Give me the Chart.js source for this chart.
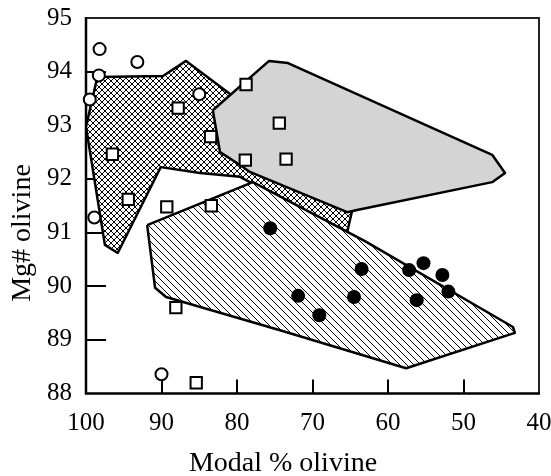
<!DOCTYPE html>
<html>
<head>
<meta charset="utf-8">
<script src="https://cdn.jsdelivr.net/npm/chart.js@4.4.1/dist/chart.umd.min.js"></script>
<style>
  html, body { margin: 0; padding: 0; background: #fff; }
  canvas { display: block; }
</style>
</head>
<body>
<canvas id="chart" width="551" height="476"></canvas>
<script>
// axis ranges and titles
const xTicks = [100, 90, 80, 70, 60, 50, 40];
const yTicks = [88, 89, 90, 91, 92, 93, 94, 95];
const xTitle = 'Modal % olivine';
const yTitle = 'Mg# olivine';

// open circles
const openCircleX = [98.2, 93.2, 98.3, 99.5, 85.0, 98.9, 90.0];
const openCircleY = [94.42, 94.18, 93.93, 93.48, 93.58, 91.28, 88.36];

// open squares
const squareX = [87.8, 96.5, 94.4, 89.3, 83.4, 83.5, 78.8, 74.4, 78.9, 73.5, 88.1, 85.4];
const squareY = [93.32, 92.46, 91.62, 91.48, 91.50, 92.79, 93.76, 93.04, 92.35, 92.37, 89.60, 88.20];

// filled circles
const filledX = [75.6, 63.5, 71.9, 69.1, 64.5, 57.2, 55.3, 52.8, 52.0, 56.2];
const filledY = [91.08, 90.32, 89.82, 89.46, 89.80, 90.30, 90.43, 90.21, 89.90, 89.74];

// field outlines
const crossX = [98.5, 89.8, 86.75, 80.7, 71.7, 64.8, 65.4, 78.3, 79.6, 84.9, 90.1, 95.8, 97.5, 100];
const crossY = [93.90, 93.92, 94.20, 93.56, 92.54, 91.38, 91.01, 91.94, 92.04, 92.11, 92.22, 90.62, 90.77, 92.97];

const grayX = [83.2, 82.25, 79.6, 78.3, 65.4, 64.1, 46.2, 44.5, 46.2, 73.25, 75.75];
const grayY = [93.28, 92.50, 92.26, 92.13, 91.38, 91.42, 91.94, 92.11, 92.45, 94.16, 94.20];

const hatchX = [91.9, 90.85, 89.4, 74.3, 57.6, 43.2, 43.45, 63.05, 77.9];
const hatchY = [91.14, 89.97, 89.80, 89.18, 88.47, 89.13, 89.24, 90.84, 91.94];

function points(xs, ys) {
    return xs.map((x, i) => ({ x: x, y: ys[i] }));
}

function closedShape(xs, ys) {
    const pts = points(xs, ys);
    pts.push(pts[0]);
    return pts;
}

const canvas = document.getElementById('chart');
const ctx = canvas.getContext('2d');

// line fill patterns: '\\' hatching, or cross hatching
function makePattern(size, cross) {
    const c = document.createElement('canvas');
    c.width = size;
    c.height = size;
    const g = c.getContext('2d');
    g.fillStyle = '#fff';
    g.fillRect(0, 0, size, size);
    g.strokeStyle = '#000';
    g.lineWidth = 1;
    g.beginPath();
    for (let k = -1; k <= 1; k++) {
        g.moveTo(k * size, 0);
        g.lineTo(k * size + size, size);
        if (cross) {
            g.moveTo(k * size + size, 0);
            g.lineTo(k * size, size);
        }
    }
    g.stroke();
    return ctx.createPattern(c, 'repeat');
}

const hatchFill = makePattern(7, false);
const crossFill = makePattern(6, true);

const serif = '"Liberation Serif", "Times New Roman", serif';

// keep the plot box where the original has it
function noPadding(s) {
    s.paddingLeft = 0;
    s.paddingRight = 0;
    s.paddingTop = 0;
    s.paddingBottom = 0;
}

// inward tick marks at the inner tick values
function drawTicks(chart) {
    const c = chart.ctx;
    const a = chart.chartArea;
    const xs = chart.scales.x;
    const ys = chart.scales.y;
    c.save();
    c.strokeStyle = '#000';
    c.lineWidth = 2;
    c.beginPath();
    xTicks.slice(1, -1).forEach(v => {
        const px = Math.round(xs.getPixelForValue(v));
        c.moveTo(px, a.bottom);
        c.lineTo(px, a.bottom - 14);
    });
    yTicks.slice(1, -1).forEach(v => {
        const py = Math.round(ys.getPixelForValue(v));
        c.moveTo(a.left, py);
        c.lineTo(a.left + 20, py);
    });
    c.stroke();
    c.restore();
}

// plot frame and ticks, drawn under the marks
const framePlugin = {
    id: 'frame',
    beforeDatasetsDraw(chart) {
        const c = chart.ctx;
        const a = chart.chartArea;
        drawTicks(chart);
        c.save();
        c.strokeStyle = '#222';
        c.lineWidth = 2;
        c.beginPath();
        c.moveTo(a.left, a.top);
        c.lineTo(a.right, a.top);
        c.lineTo(a.right, a.bottom);
        c.stroke();
        c.strokeStyle = '#000';
        c.lineWidth = 2.5;
        c.beginPath();
        c.moveTo(a.left, a.top - 1);
        c.lineTo(a.left, a.bottom);
        c.lineTo(a.right + 1, a.bottom);
        c.stroke();
        c.restore();
    }
};

// axis titles (sit off-centre in the original)
const titlePlugin = {
    id: 'axisTitles',
    afterDraw(chart) {
        const c = chart.ctx;
        const a = chart.chartArea;
        c.save();
        c.fillStyle = '#000';
        c.font = '28px ' + serif;
        c.textAlign = 'center';
        c.textBaseline = 'alphabetic';
        c.fillText(xTitle, a.left + 197, 471);
        c.translate(30, a.top + 215);
        c.rotate(-Math.PI / 2);
        c.fillText(yTitle, 0, 0);
        c.restore();
    }
};

new Chart(ctx, {
    type: 'scatter',
    data: {
        datasets: [
            {
                label: 'filled circles',
                data: points(filledX, filledY),
                pointStyle: 'circle',
                pointRadius: 7,
                pointBackgroundColor: '#000',
                pointBorderWidth: 0,
                clip: false
            },
            {
                label: 'open circles',
                data: points(openCircleX, openCircleY),
                pointStyle: 'circle',
                pointRadius: 6,
                pointBackgroundColor: '#fff',
                pointBorderColor: '#000',
                pointBorderWidth: 2,
                clip: false
            },
            {
                label: 'open squares',
                data: points(squareX, squareY),
                pointStyle: 'rect',
                pointRadius: 8,
                pointBackgroundColor: '#fff',
                pointBorderColor: '#000',
                pointBorderWidth: 2,
                clip: false
            },
            {
                label: 'hatched field',
                data: closedShape(hatchX, hatchY),
                showLine: true,
                pointRadius: 0,
                tension: 0,
                fill: 'shape',
                backgroundColor: hatchFill,
                borderColor: '#000',
                borderWidth: 2.5,
                borderJoinStyle: 'round'
            },
            {
                label: 'gray field',
                data: closedShape(grayX, grayY),
                showLine: true,
                pointRadius: 0,
                tension: 0,
                fill: 'shape',
                backgroundColor: '#d4d4d4',
                borderColor: '#000',
                borderWidth: 2.5,
                borderJoinStyle: 'round'
            },
            {
                label: 'cross-hatched field',
                data: closedShape(crossX, crossY),
                showLine: true,
                pointRadius: 0,
                tension: 0,
                fill: 'shape',
                backgroundColor: crossFill,
                borderColor: '#000',
                borderWidth: 2.5,
                borderJoinStyle: 'round'
            }
        ]
    },
    options: {
        responsive: false,
        animation: false,
        layout: { padding: { left: 0, right: 12, top: 18, bottom: 0 } },
        plugins: {
            legend: { display: false },
            tooltip: { enabled: false }
        },
        scales: {
            x: {
                type: 'linear',
                reverse: true,
                min: Math.min(...xTicks),
                max: Math.max(...xTicks),
                afterFit: s => { s.height = 82.5; noPadding(s); },
                border: { display: false },
                grid: { display: false, drawTicks: false },
                ticks: {
                    stepSize: 10,
                    autoSkip: false,
                    maxRotation: 0,
                    padding: 15,
                    color: '#000',
                    font: { family: serif, size: 25 }
                }
            },
            y: {
                type: 'linear',
                min: Math.min(...yTicks),
                max: Math.max(...yTicks),
                afterFit: s => { s.width = 86; noPadding(s); },
                border: { display: false },
                grid: { display: false, drawTicks: false },
                ticks: {
                    stepSize: 1,
                    autoSkip: false,
                    padding: 14,
                    color: '#000',
                    font: { family: serif, size: 25 }
                }
            }
        }
    },
    plugins: [framePlugin, titlePlugin]
});
</script>
</body>
</html>
